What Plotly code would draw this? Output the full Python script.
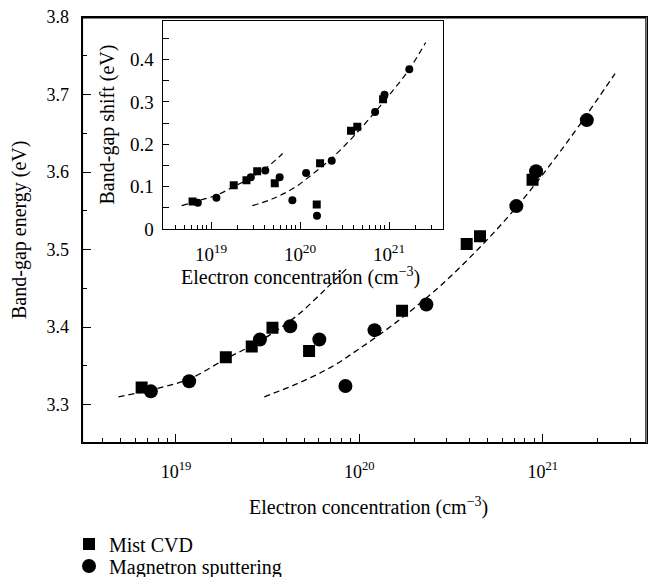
import plotly.graph_objects as go

# ---------------- data ----------------
# Main plot: band-gap energy vs electron concentration
main_cvd_n = [6.5e18, 1.87e19, 2.59e19, 3.36e19, 5.32e19, 1.71e20, 3.85e20, 4.55e20, 8.8e20]
main_cvd_E = [3.322, 3.361, 3.375, 3.399, 3.369, 3.421, 3.507, 3.517, 3.590]

main_ms_n = [7.3e18, 1.18e19, 2.87e19, 4.2e19, 6.05e19, 8.4e19, 1.21e20, 2.32e20, 7.18e20, 9.2e20, 1.74e21]
main_ms_E = [3.317, 3.330, 3.384, 3.401, 3.384, 3.324, 3.396, 3.429, 3.556, 3.601, 3.667]

main_fit1_n = [4.86e18, 7.38e18, 1.18e19, 1.87e19, 2.59e19, 3.36e19, 4.59e19, 6.62e19, 8.5e19]
main_fit1_E = [3.310, 3.319, 3.333, 3.359, 3.376, 3.392, 3.415, 3.450, 3.475]

main_fit2_n = [3.03e19, 4.59e19, 6.98e19, 1.0e20, 1.45e20, 1.98e20, 2.82e20, 3.98e20,
               5.62e20, 7.94e20, 1.12e21, 1.58e21, 2.48e21]
main_fit2_E = [3.310, 3.327, 3.348, 3.372, 3.399, 3.424, 3.455, 3.489,
               3.526, 3.567, 3.612, 3.660, 3.727]

# Inset: band-gap shift vs electron concentration
inset_cvd_n = [6.2e18, 1.8e19, 2.5e19, 3.3e19, 5.2e19, 1.54e20, 1.68e20, 3.74e20, 4.4e20, 8.57e20]
inset_cvd_dE = [0.065, 0.103, 0.115, 0.136, 0.108, 0.058, 0.155, 0.232, 0.241, 0.306]

inset_ms_n = [7.1e18, 1.15e19, 2.8e19, 4.07e19, 5.9e19, 8.2e19, 1.17e20, 1.55e20, 2.27e20, 6.97e20, 8.9e20, 1.69e21]
inset_ms_dE = [0.062, 0.074, 0.122, 0.138, 0.122, 0.068, 0.132, 0.031, 0.161, 0.276, 0.317, 0.377]

inset_fit1_n = [4.68e18, 7.52e18, 1.16e19, 1.80e19, 2.74e19, 4.22e19, 6.38e19]
inset_fit1_dE = [0.055, 0.068, 0.080, 0.100, 0.120, 0.145, 0.178]

inset_fit2_n = [2.91e19, 5.01e19, 8.41e19, 1.41e20, 2.27e20, 3.97e20, 6.97e20, 1.12e21, 1.69e21, 2.58e21]
inset_fit2_dE = [0.055, 0.072, 0.096, 0.131, 0.167, 0.218, 0.276, 0.328, 0.377, 0.440]

decade_vals = [1e19, 1e20, 1e21]
decade_text = ["10<sup>19</sup>", "10<sup>20</sup>", "10<sup>21</sup>"]
x_minor_vals = ([k * 1e18 for k in range(4, 10)] + [k * 1e19 for k in range(2, 10)]
                + [k * 1e20 for k in range(2, 10)] + [2e21, 3e21])
main_y_vals = [3.3, 3.4, 3.5, 3.6, 3.7, 3.8]
main_y_text = ["3.3", "3.4", "3.5", "3.6", "3.7", "3.8"]
main_y_minor = [3.25, 3.35, 3.45, 3.55, 3.65, 3.75]
inset_y_vals = [0, 0.1, 0.2, 0.3, 0.4]
inset_y_text = ["0", "0.1", "0.2", "0.3", "0.4"]
inset_y_minor = [0.05, 0.15, 0.25, 0.35, 0.45]

# frame of the main plot area, in the unit square of a helper overlay axis pair
frame_x = [0, 1, 1, 0, 0]
frame_y = [0, 0, 1, 1, 0]

labels = {"cvd": "Mist CVD", "ms": "Magnetron sputtering"}

FONT = "Liberation Serif, Times New Roman, serif"
W, H = 649, 577

MAIN_XR = [18.486, 21.567]
MAIN_YR = [3.25, 3.8]
INS_XR = [18.457, 21.603]
INS_YR = [0, 0.4915]


def fx(p):
    return p / W


def fy(p):
    return 1 - p / H


MAIN_XD = [fx(81.7), fx(646.7)]
MAIN_YD = [fy(443.3), fy(17.0)]
INS_XD = [fx(162.7), fx(442.7)]
INS_YD = [fy(229.0), fy(20.7)]

fig = go.Figure()

dash_line = dict(color="black", width=1.3, dash="6px,4px")
fig.add_trace(go.Scatter(x=main_fit1_n, y=main_fit1_E, mode="lines", line=dict(shape="spline", **dash_line),
                         showlegend=False, hoverinfo="skip", xaxis="x", yaxis="y"))
fig.add_trace(go.Scatter(x=main_fit2_n, y=main_fit2_E, mode="lines", line=dict(shape="spline", **dash_line),
                         showlegend=False, hoverinfo="skip", xaxis="x", yaxis="y"))
fig.add_trace(go.Scatter(x=main_cvd_n, y=main_cvd_E, mode="markers", name=labels["cvd"],
                         marker=dict(symbol="square", size=12, color="black"),
                         legend="legend", xaxis="x", yaxis="y"))
fig.add_trace(go.Scatter(x=main_ms_n, y=main_ms_E, mode="markers", name=labels["ms"],
                         marker=dict(symbol="circle", size=14, color="black"),
                         legend="legend2", xaxis="x", yaxis="y"))

dash_small = dict(color="black", width=1.2, dash="6px,4px")
fig.add_trace(go.Scatter(x=inset_fit1_n, y=inset_fit1_dE, mode="lines", line=dict(shape="spline", **dash_small),
                         showlegend=False, hoverinfo="skip", xaxis="x2", yaxis="y2"))
fig.add_trace(go.Scatter(x=inset_fit2_n, y=inset_fit2_dE, mode="lines", line=dict(shape="spline", **dash_small),
                         showlegend=False, hoverinfo="skip", xaxis="x2", yaxis="y2"))
fig.add_trace(go.Scatter(x=inset_cvd_n, y=inset_cvd_dE, mode="markers", name=labels["cvd"],
                         marker=dict(symbol="square", size=8, color="black"),
                         showlegend=False, xaxis="x2", yaxis="y2"))
fig.add_trace(go.Scatter(x=inset_ms_n, y=inset_ms_dE, mode="markers", name=labels["ms"],
                         marker=dict(symbol="circle", size=8, color="black"),
                         showlegend=False, xaxis="x2", yaxis="y2"))

fig.add_trace(go.Scatter(x=[], y=[], mode="markers", showlegend=False, hoverinfo="skip",
                         xaxis="x3", yaxis="y3"))
fig.add_trace(go.Scatter(x=[], y=[], mode="markers", showlegend=False, hoverinfo="skip",
                         xaxis="x4", yaxis="y4"))
# main frame drawn on a helper overlay axis pair spanning the main plot area
fig.add_trace(go.Scatter(x=frame_x, y=frame_y, mode="lines", line=dict(color="black", width=1.4),
                         showlegend=False, hoverinfo="skip", xaxis="x5", yaxis="y5"))

axis_common = dict(showline=True, linecolor="#000000", linewidth=1.3, mirror=True,
                   showgrid=False, zeroline=False, ticks="inside", tickcolor="#000000", tickwidth=1.2)
tick_only = dict(showline=False, showgrid=False, zeroline=False, showticklabels=False,
                 ticks="inside", tickcolor="#000000", tickwidth=1.1, tickmode="array")
hidden = dict(visible=False, showgrid=False, zeroline=False, showline=False, showticklabels=False)

fig.update_layout(
    template="none",
    width=W, height=H,
    margin=dict(l=0, r=0, t=0, b=0, autoexpand=False),
    paper_bgcolor="white", plot_bgcolor="rgba(0,0,0,0)",
    font=dict(family=FONT, color="black", size=18),
    xaxis=dict(type="log", range=MAIN_XR, domain=MAIN_XD, anchor="y",
               tickmode="array", tickvals=decade_vals, ticktext=decade_text, ticklen=9,
               tickfont=dict(size=18), ticklabelstandoff=12, **axis_common),
    yaxis=dict(range=MAIN_YR, domain=MAIN_YD, anchor="x",
               tickmode="array", tickvals=main_y_vals, ticktext=main_y_text, ticklen=9,
               tickfont=dict(size=18), ticklabelstandoff=8, **axis_common),
    xaxis3=dict(type="log", range=MAIN_XR, overlaying="x", anchor="y3", side="bottom",
                tickvals=x_minor_vals, ticklen=5, **tick_only),
    yaxis3=dict(range=MAIN_YR, overlaying="y", anchor="x3", side="left",
                tickvals=main_y_minor, ticklen=5, **tick_only),
    xaxis5=dict(range=[-0.0012, 1.0012], overlaying="x", anchor="y5", **hidden),
    yaxis5=dict(range=[-0.0016, 1.0016], overlaying="y", anchor="x5", **hidden),
    xaxis2=dict(type="log", range=INS_XR, domain=INS_XD, anchor="y2",
                tickmode="array", tickvals=decade_vals, ticktext=decade_text, ticklen=7,
                tickfont=dict(size=19), ticklabelstandoff=8, **axis_common),
    yaxis2=dict(range=INS_YR, domain=INS_YD, anchor="x2",
                tickmode="array", tickvals=inset_y_vals, ticktext=inset_y_text, ticklen=6,
                tickfont=dict(size=19), ticklabelstandoff=4, **axis_common),
    xaxis4=dict(type="log", range=INS_XR, overlaying="x2", anchor="y4", side="bottom",
                tickvals=x_minor_vals, ticklen=4, **tick_only),
    yaxis4=dict(range=INS_YR, overlaying="y2", anchor="x4", side="left",
                tickvals=inset_y_minor, ticklen=6, **tick_only),
    legend=dict(x=fx(69), y=fy(544), xanchor="left", yanchor="middle",
                font=dict(size=20, family=FONT), bgcolor="rgba(0,0,0,0)", borderwidth=0),
    legend2=dict(x=fx(69), y=fy(566), xanchor="left", yanchor="middle",
                 font=dict(size=20, family=FONT), bgcolor="rgba(0,0,0,0)", borderwidth=0),
    annotations=[
        dict(text="Electron concentration (cm<sup>−3</sup>)", x=fx(368), y=fy(506),
             xref="paper", yref="paper", showarrow=False, xanchor="center", yanchor="middle",
             font=dict(size=20, family=FONT)),
        dict(text="Band-gap energy (eV)", x=fx(20), y=fy(230), textangle=-90,
             xref="paper", yref="paper", showarrow=False, xanchor="center", yanchor="middle",
             font=dict(size=20, family=FONT)),
        dict(text="Electron concentration (cm<sup>−3</sup>)", x=fx(300), y=fy(276),
             xref="paper", yref="paper", showarrow=False, xanchor="center", yanchor="middle",
             font=dict(size=20, family=FONT)),
        dict(text="Band-gap shift (eV)", x=fx(107), y=fy(124.5), textangle=-90,
             xref="paper", yref="paper", showarrow=False, xanchor="center", yanchor="middle",
             font=dict(size=20, family=FONT)),
    ],
)

fig.write_html("out.html")
